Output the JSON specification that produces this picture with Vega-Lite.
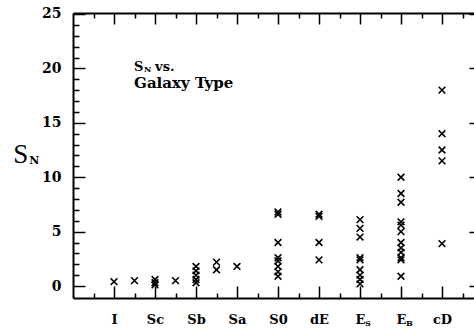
{
  "$schema": "https://vega.github.io/schema/vega-lite/v6.json",
  "width": 401,
  "height": 285,
  "autosize": {"type": "none"},
  "padding": {"left": 73, "top": 13, "right": 0, "bottom": 33},
  "config": {
    "view": {"stroke": null},
    "font": "DejaVu Serif",
    "axis": {
      "domainColor": "black",
      "domainWidth": 2,
      "tickColor": "black",
      "tickWidth": 1.5,
      "grid": false,
      "labelColor": "black",
      "labelFont": "DejaVu Serif",
      "labelFontWeight": "bold",
      "labelOverlap": false,
      "labelFlush": false,
      "labelBound": false,
      "title": null
    }
  },
  "resolve": {"axis": {"x": "independent", "y": "independent"}},
  "layer": [
    {
      "data": {
        "values": [
          {"type": "I", "pos": 1, "SN": 0.4},
          {"type": "I/Sc", "pos": 1.5, "SN": 0.5},
          {"type": "Sc", "pos": 2, "SN": 0.6},
          {"type": "Sc", "pos": 2, "SN": 0.3},
          {"type": "Sc", "pos": 2, "SN": 0.1},
          {"type": "Sc/Sb", "pos": 2.5, "SN": 0.5},
          {"type": "Sb", "pos": 3, "SN": 1.8},
          {"type": "Sb", "pos": 3, "SN": 1.4},
          {"type": "Sb", "pos": 3, "SN": 1.0},
          {"type": "Sb", "pos": 3, "SN": 0.6},
          {"type": "Sb", "pos": 3, "SN": 0.3},
          {"type": "Sb/Sa", "pos": 3.5, "SN": 2.2},
          {"type": "Sb/Sa", "pos": 3.5, "SN": 1.5},
          {"type": "Sa", "pos": 4, "SN": 1.8},
          {"type": "S0", "pos": 5, "SN": 6.8},
          {"type": "S0", "pos": 5, "SN": 6.6},
          {"type": "S0", "pos": 5, "SN": 4.0},
          {"type": "S0", "pos": 5, "SN": 2.6},
          {"type": "S0", "pos": 5, "SN": 2.3},
          {"type": "S0", "pos": 5, "SN": 1.8},
          {"type": "S0", "pos": 5, "SN": 1.3},
          {"type": "S0", "pos": 5, "SN": 0.9},
          {"type": "dE", "pos": 6, "SN": 6.6},
          {"type": "dE", "pos": 6, "SN": 6.4},
          {"type": "dE", "pos": 6, "SN": 4.0},
          {"type": "dE", "pos": 6, "SN": 2.4},
          {"type": "ES", "pos": 7, "SN": 6.1},
          {"type": "ES", "pos": 7, "SN": 5.3},
          {"type": "ES", "pos": 7, "SN": 4.5},
          {"type": "ES", "pos": 7, "SN": 2.6},
          {"type": "ES", "pos": 7, "SN": 2.4},
          {"type": "ES", "pos": 7, "SN": 1.5},
          {"type": "ES", "pos": 7, "SN": 1.0},
          {"type": "ES", "pos": 7, "SN": 0.6},
          {"type": "ES", "pos": 7, "SN": 0.2},
          {"type": "EB", "pos": 8, "SN": 10.0},
          {"type": "EB", "pos": 8, "SN": 8.5},
          {"type": "EB", "pos": 8, "SN": 7.7},
          {"type": "EB", "pos": 8, "SN": 5.9},
          {"type": "EB", "pos": 8, "SN": 5.6},
          {"type": "EB", "pos": 8, "SN": 5.0},
          {"type": "EB", "pos": 8, "SN": 4.0},
          {"type": "EB", "pos": 8, "SN": 3.5},
          {"type": "EB", "pos": 8, "SN": 3.1},
          {"type": "EB", "pos": 8, "SN": 2.6},
          {"type": "EB", "pos": 8, "SN": 2.4},
          {"type": "EB", "pos": 8, "SN": 0.9},
          {"type": "cD", "pos": 9, "SN": 18.0},
          {"type": "cD", "pos": 9, "SN": 14.0},
          {"type": "cD", "pos": 9, "SN": 12.5},
          {"type": "cD", "pos": 9, "SN": 11.5},
          {"type": "cD", "pos": 9, "SN": 3.9}
        ]
      },
      "mark": {
        "type": "point",
        "shape": "M-1,-1L1,1M-1,1L1,-1",
        "filled": false,
        "size": 45,
        "strokeWidth": 1.6,
        "color": "black",
        "opacity": 1
      },
      "encoding": {
        "x": {
          "field": "pos",
          "type": "quantitative",
          "scale": {"domain": [0, 9.78], "nice": false, "zero": false},
          "axis": {
            "orient": "bottom",
            "values": [0.5, 1, 1.5, 2, 2.5, 3, 3.5, 4, 4.5, 5, 5.5, 6, 6.5, 7, 7.5, 8, 8.5, 9, 9.5],
            "tickSize": {"condition": {"test": "datum.value % 1 === 0", "value": -12}, "value": -5},
            "labelExpr": "datum.value % 1 === 0 ? ['', 'I', 'Sc', 'Sb', 'Sa', 'S0', 'dE', 'E', 'E', 'cD'][datum.value] : ''",
            "labelFontSize": 13,
            "labelPadding": 27
          }
        },
        "y": {
          "field": "SN",
          "type": "quantitative",
          "scale": {"domain": [-1.1, 25.09], "nice": false, "zero": false},
          "axis": {
            "orient": "left",
            "values": [0, 1, 2, 3, 4, 5, 6, 7, 8, 9, 10, 11, 12, 13, 14, 15, 16, 17, 18, 19, 20, 21, 22, 23, 24, 25],
            "tickSize": {"condition": {"test": "datum.value % 5 === 0", "value": -12}, "value": -6},
            "labelExpr": "datum.value % 5 === 0 ? datum.label : ''",
            "labelFontSize": 14,
            "labelPadding": 24
          }
        }
      }
    },
    {
      "data": {"values": [{"x": 1.49, "y": 18.2, "label": "Galaxy Type"}]},
      "mark": {"type": "text", "align": "left", "baseline": "alphabetic", "fontSize": 15, "fontWeight": "bold", "font": "DejaVu Serif", "color": "black"},
      "encoding": {
        "x": {
          "field": "x", "type": "quantitative",
          "scale": {"domain": [0, 9.78], "nice": false, "zero": false},
          "axis": {
            "orient": "top",
            "values": [0.5, 1, 1.5, 2, 2.5, 3, 3.5, 4, 4.5, 5, 5.5, 6, 6.5, 7, 7.5, 8, 8.5, 9, 9.5],
            "tickSize": {"condition": {"test": "datum.value % 1 === 0", "value": -11}, "value": -5},
            "labels": false
          }
        },
        "y": {
          "field": "y", "type": "quantitative",
          "scale": {"domain": [-1.1, 25.09], "nice": false, "zero": false},
          "axis": {
            "orient": "right",
            "values": [0, 5, 10, 15, 20, 25],
            "tickSize": -5,
            "domain": false,
            "labels": false
          }
        },
        "text": {"field": "label"}
      }
    },
    {
      "data": {"values": [{"x": 1.49, "y": 19.78, "label": "S"}]},
      "mark": {"type": "text", "align": "left", "baseline": "alphabetic", "fontSize": 13, "fontWeight": "bold", "font": "DejaVu Serif", "color": "black"},
      "encoding": {
        "x": {"field": "x", "type": "quantitative", "scale": {"domain": [0, 9.78], "nice": false, "zero": false}, "axis": null},
        "y": {"field": "y", "type": "quantitative", "scale": {"domain": [-1.1, 25.09], "nice": false, "zero": false}, "axis": null},
        "text": {"field": "label"}
      }
    },
    {
      "data": {"values": [{"x": 1.49, "y": 19.78, "label": "N"}]},
      "mark": {"type": "text", "align": "left", "baseline": "alphabetic", "dx": 10, "dy": 1, "fontSize": 8, "fontWeight": "bold", "font": "DejaVu Serif", "color": "black"},
      "encoding": {
        "x": {"field": "x", "type": "quantitative", "scale": {"domain": [0, 9.78], "nice": false, "zero": false}, "axis": null},
        "y": {"field": "y", "type": "quantitative", "scale": {"domain": [-1.1, 25.09], "nice": false, "zero": false}, "axis": null},
        "text": {"field": "label"}
      }
    },
    {
      "data": {"values": [{"x": 1.49, "y": 19.78, "label": "vs."}]},
      "mark": {"type": "text", "align": "left", "baseline": "alphabetic", "dx": 21, "fontSize": 13, "fontWeight": "bold", "font": "DejaVu Serif", "color": "black"},
      "encoding": {
        "x": {"field": "x", "type": "quantitative", "scale": {"domain": [0, 9.78], "nice": false, "zero": false}, "axis": null},
        "y": {"field": "y", "type": "quantitative", "scale": {"domain": [-1.1, 25.09], "nice": false, "zero": false}, "axis": null},
        "text": {"field": "label"}
      }
    },
    {
      "data": {"values": [{"x": -1.46, "y": 11.3, "label": "S"}]},
      "mark": {"type": "text", "align": "left", "baseline": "alphabetic", "fontSize": 27, "font": "Liberation Serif", "color": "black"},
      "encoding": {
        "x": {"field": "x", "type": "quantitative", "scale": {"domain": [0, 9.78], "nice": false, "zero": false}, "axis": null},
        "y": {"field": "y", "type": "quantitative", "scale": {"domain": [-1.1, 25.09], "nice": false, "zero": false}, "axis": null},
        "text": {"field": "label"}
      }
    },
    {
      "data": {"values": [{"x": -1.46, "y": 11.3, "label": "N"}]},
      "mark": {"type": "text", "align": "left", "baseline": "alphabetic", "dx": 16, "dy": 1, "fontSize": 11, "fontWeight": "bold", "font": "DejaVu Serif", "color": "black"},
      "encoding": {
        "x": {"field": "x", "type": "quantitative", "scale": {"domain": [0, 9.78], "nice": false, "zero": false}, "axis": null},
        "y": {"field": "y", "type": "quantitative", "scale": {"domain": [-1.1, 25.09], "nice": false, "zero": false}, "axis": null},
        "text": {"field": "label"}
      }
    },
    {
      "data": {"values": [{"x": 7, "y": -3.7, "label": "S"}, {"x": 8, "y": -3.7, "label": "B"}]},
      "mark": {"type": "text", "align": "left", "baseline": "alphabetic", "dx": 5, "fontSize": 8, "fontWeight": "bold", "font": "DejaVu Serif", "color": "black"},
      "encoding": {
        "x": {"field": "x", "type": "quantitative", "scale": {"domain": [0, 9.78], "nice": false, "zero": false}, "axis": null},
        "y": {"field": "y", "type": "quantitative", "scale": {"domain": [-1.1, 25.09], "nice": false, "zero": false}, "axis": null},
        "text": {"field": "label"}
      }
    }
  ]
}
